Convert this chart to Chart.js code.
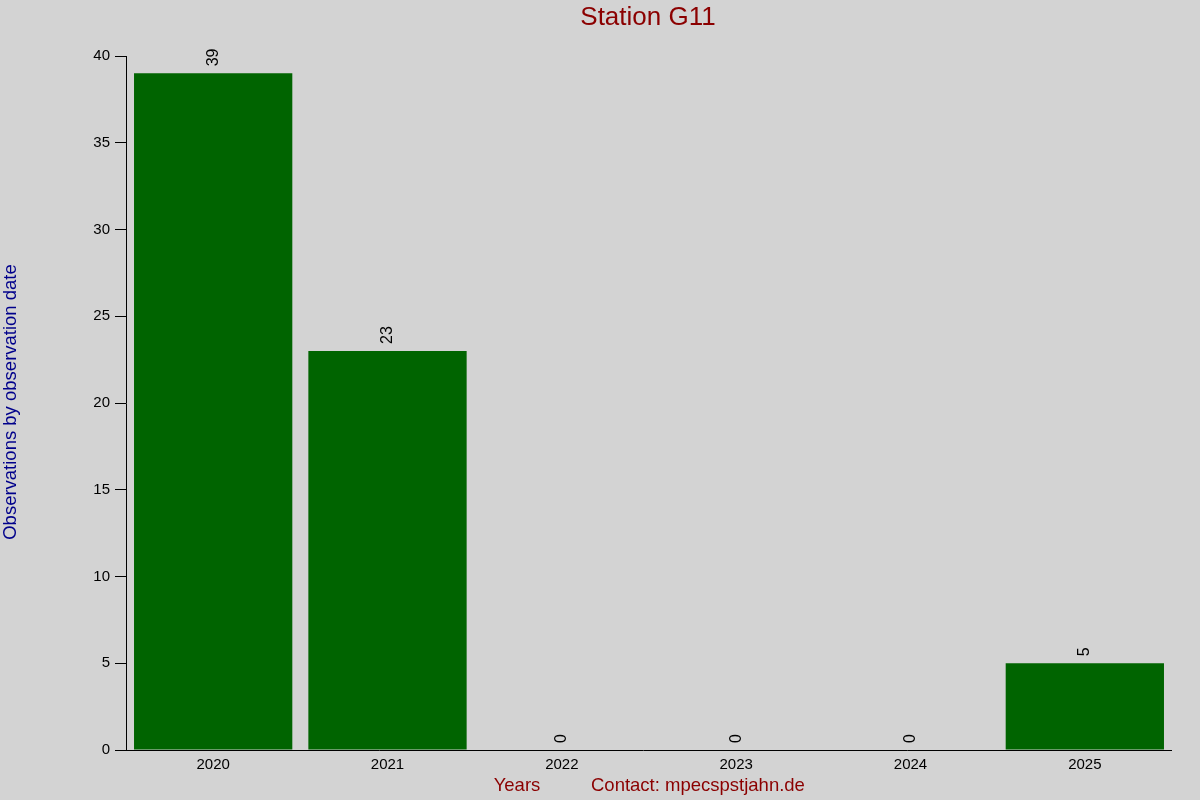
<!DOCTYPE html>
<html>
<head>
<meta charset="utf-8">
<script src="https://cdn.jsdelivr.net/npm/chart.js@4"></script>
<style>
  html, body { margin: 0; padding: 0; background: #d3d3d3; }
  #wrap { width: 1200px; height: 800px; }
</style>
</head>
<body>
<div id="wrap"><canvas id="chart" width="1200" height="800"></canvas></div>
<script>
const years = ['2020', '2021', '2022', '2023', '2024', '2025'];
const observations = [39, 23, 0, 0, 0, 5];
const yTicks = [0, 5, 10, 15, 20, 25, 30, 35, 40];

const FONT = '"Liberation Sans", Arial, sans-serif';

// draws title, axis titles and the rotated value labels
const textPlugin = {
    id: 'texts',
    afterDraw(chart) {
        const ctx = chart.ctx;
        const area = chart.chartArea;
        ctx.save();

        ctx.fillStyle = '#8b0000';
        ctx.font = '26px ' + FONT;
        ctx.textAlign = 'center';
        ctx.textBaseline = 'middle';
        ctx.fillText('Station G11', 648, 18);

        ctx.font = '18.5px ' + FONT;
        ctx.textAlign = 'center';
        ctx.fillText('Years', 517, 786);
        ctx.textAlign = 'left';
        ctx.fillText('Contact: mpecspstjahn.de', 591, 786);

        ctx.save();
        ctx.translate(11, 402);
        ctx.rotate(-Math.PI / 2);
        ctx.fillStyle = '#00008b';
        ctx.textAlign = 'center';
        ctx.fillText('Observations by observation date', 0, 0);
        ctx.restore();

        // x axis line runs a bit past the y axis, like the tick marks
        ctx.strokeStyle = '#000';
        ctx.lineWidth = 1;
        ctx.beginPath();
        ctx.moveTo(115, area.bottom + 0.5);
        ctx.lineTo(area.right, area.bottom + 0.5);
        ctx.stroke();

        const meta = chart.getDatasetMeta(0);
        ctx.fillStyle = '#000';
        ctx.font = '16px ' + FONT;
        meta.data.forEach((bar, i) => {
            ctx.save();
            ctx.translate(bar.x, bar.y - 7);
            ctx.rotate(-Math.PI / 2);
            ctx.textAlign = 'left';
            ctx.textBaseline = 'middle';
            ctx.fillText(String(observations[i]), 0, 0);
            ctx.restore();
        });
        ctx.restore();
    }
};

new Chart(document.getElementById('chart'), {
    type: 'bar',
    data: {
        labels: years,
        datasets: [{
            data: observations,
            backgroundColor: '#006400',
            barPercentage: 0.908,
            categoryPercentage: 1.0
        }]
    },
    options: {
        responsive: false,
        animation: false,
        layout: { padding: { top: 56, right: 28, left: 0, bottom: 0 } },
        plugins: {
            legend: { display: false },
            tooltip: { enabled: false }
        },
        scales: {
            x: {
                grid: { display: false, drawTicks: false },
                border: { display: false },
                ticks: { color: '#000', font: { family: FONT, size: 15 }, padding: 6, maxRotation: 0 },
                afterFit: (scale) => { scale.height = 50; }
            },
            y: {
                min: 0,
                max: 40,
                afterBuildTicks: (scale) => { scale.ticks = yTicks.map(v => ({ value: v })); },
                grid: { drawOnChartArea: false, color: '#000', tickLength: 11 },
                border: { display: true, color: '#000' },
                ticks: { color: '#000', font: { family: FONT, size: 15 }, padding: 5 },
                afterFit: (scale) => { scale.width = 126; }
            }
        }
    },
    plugins: [textPlugin]
});
</script>
</body>
</html>
